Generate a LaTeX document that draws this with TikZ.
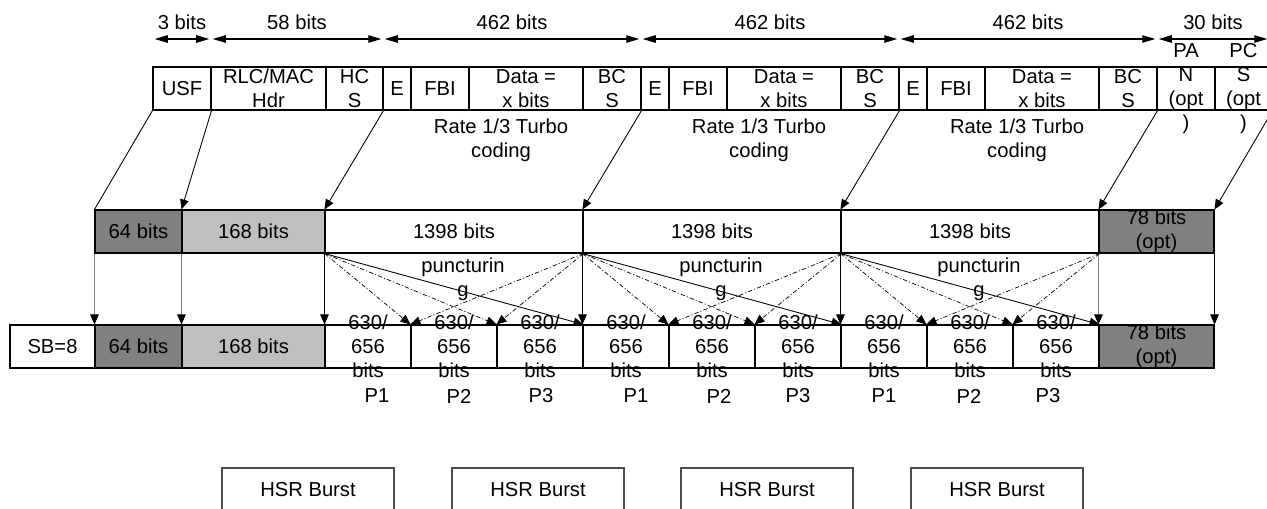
\documentclass[tikz,border=0pt]{standalone}
\usepackage{fontspec}
\setmainfont{Liberation Sans}
\usepackage{tikz}
\usetikzlibrary{arrows.meta}
\usepackage{tkz-euclide}

\tikzset{
  box/.style={draw, line width=0.6pt, minimum height=0.86cm, inner sep=0pt},
  dark/.style={box, fill=gray},
  light/.style={box, fill=gray!50},
  burst/.style={box, draw=black!70},
  txt/.style={align=center, inner sep=0pt, font=\fontsize{11.5}{13.6}\selectfont},
  conn/.style={-{Triangle[length=0.2cm,width=0.17cm,color=black]}, line width=0.5pt},
  grayconn/.style={conn, draw=gray},
  punct/.style={conn, line width=0.4pt, dash pattern=on 2.5pt off 1.2pt on 0.6pt off 1.2pt},
  dim/.style={{Triangle[length=0.26cm,width=0.15cm]}-{Triangle[length=0.26cm,width=0.15cm]}, line width=0.6pt, shorten <=1pt, shorten >=1pt}
}

\newcommand{\cell}[6][box]{%
  \pgfmathsetmacro\cellw{((#4)-(#3))*0.02}%
  \node[#1, minimum width=\cellw cm] (#2) at ({((#3)+(#4))/2},#5) {};
  \node[txt] (#2t) at (#2) {#6};}

\begin{document}
\begin{tikzpicture}[x=0.02cm, y=-0.02cm]
  \useasboundingbox (0,0) rectangle (1267,508);
  \tkzDefPoints{153/39/t0, 211/39/t1, 383/39/t2, 641/39/t3, 899/39/t4, 1157/39/t5, 1269/39/t6}
  \foreach \a/\b/\t [count=\i] in {t0/t1/3 bits, t1/t2/58 bits, t2/t3/462 bits, t3/t4/462 bits, t4/t5/462 bits, t5/t6/30 bits}
    \draw[dim] (\a) -- node[txt, yshift=0.34cm] (dl\i) {\t} (\b);

  \cell{usf}{153}{211}{88.5}{USF}
  \cell{rlc}{211}{326}{88.5}{RLC/MAC\\Hdr}
  \cell{hcs}{326}{383}{88.5}{HC\\S}
  \foreach \b/\n in {383/1, 641/2, 899/3} {
    \cell{e\n}{\b}{\b+28}{88.5}{E}
    \cell{fbi\n}{\b+28}{\b+86}{88.5}{FBI}
    \cell{data\n}{\b+86}{\b+200}{88.5}{Data =\\x bits}
    \cell{bcs\n}{\b+200}{\b+258}{88.5}{BC\\S}
    \node[txt] (rate\n) at (\b+118,140.5) {Rate 1/3 Turbo\\coding};
  }
  \cell{pan}{1157}{1215}{88.5}{PA\\N\\(opt\\)}
  \cell{pcs}{1215}{1272}{88.5}{PC\\S\\(opt\\)}

  \cell[dark]{m64}{95}{182}{231.5}{64 bits}
  \cell[light]{m168}{182}{325}{231.5}{168 bits}
  \foreach \b/\n in {325/1, 583/2, 841/3} {
    \cell{d\n}{\b}{\b+258}{231.5}{1398 bits}
    \node[txt] (pu\n) at (\b+138,279) {puncturin\\g};
  }
  \cell[dark]{m78}{1099}{1214}{231.5}{78 bits\\(opt)}

  \cell{sb}{10}{95}{346.5}{SB=8}
  \cell[dark]{b64}{95}{182}{346.5}{64 bits}
  \cell[light]{b168}{182}{325}{346.5}{168 bits}
  \foreach \b/\n in {325/1, 583/2, 841/3} {
    \foreach \k in {1,2,3} {
      \cell{p\n\k}{\b+86*(\k-1)}{\b+86*\k}{346.5}{630/\\656\\bits}
    }
  }
  \cell[dark]{b78}{1099}{1214}{346.5}{78 bits\\(opt)}

  \foreach \x/\t [count=\i] in {377/P1, 459/P2, 541/P3, 636/P1, 719/P2, 798/P3, 884/P1, 969/P2, 1048/P3}
    \node[txt] (pl\i) at (\x,396) {\t};
  \foreach \x [count=\i] in {222, 452, 681, 911} {
    \cell[burst]{hsr\i}{\x}{\x+172}{489.5}{HSR Burst}
  }

  \draw[line width=0.5pt] (usf.south west) -- (m64.north west);
  \draw[conn] (usf.south east) -- (m168.north west);
  \draw[conn] (hcs.south east) -- (d1.north west);
  \draw[conn] (bcs1.south east) -- (d2.north west);
  \draw[conn] (bcs2.south east) -- (d3.north west);
  \draw[conn] (bcs3.south east) -- (m78.north west);
  \draw[conn] (pcs.south east) -- (m78.north east);

  \draw[grayconn] (m64.south west) -- (b64.north west);
  \draw[grayconn] (m168.south west) -- (b168.north west);
  \draw[grayconn] (m78.south west) -- (b78.north west);
  \draw[conn] (m78.south east) -- (b78.north east);
  \foreach \n in {1,2,3} {
    \draw[conn] (d\n.south west) -- (p\n1.north west);
    \draw[punct] (d\n.south west) -- (p\n2.north west);
    \draw[punct] (d\n.south west) -- (p\n3.north west);
    \draw[conn] (d\n.south west) -- (p\n3.north east);
    \draw[punct] (d\n.south east) -- (p\n2.north west);
    \draw[punct] (d\n.south east) -- (p\n3.north west);
  }
\end{tikzpicture}
\end{document}
